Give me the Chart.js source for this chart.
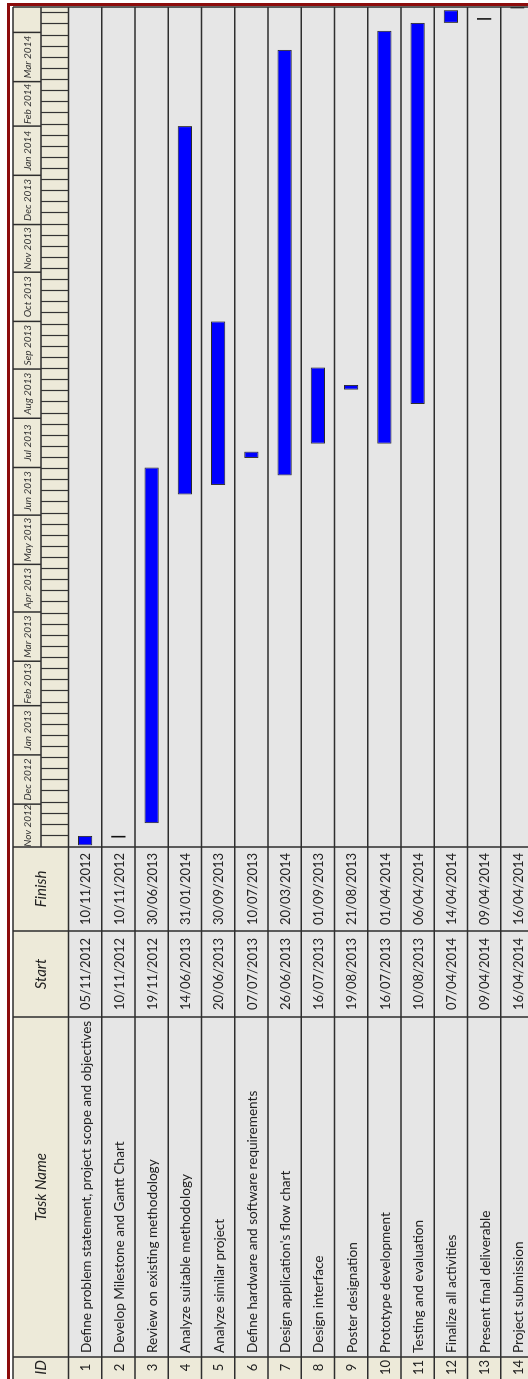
<!DOCTYPE html>
<html lang="en">
<head>
    <meta charset="UTF-8">
    <title>Project Gantt Chart</title>
    <script src="https://cdn.jsdelivr.net/npm/chart.js"></script>
    <style>
        html, body { margin: 0; padding: 0; background: #fff; width: 528px; height: 1379px; overflow: hidden; }
        /* chart is drawn landscape and turned a quarter to fit the portrait page */
        #wrap { position: absolute; left: 0; top: 0; width: 1379px; height: 540px;
                transform-origin: 0 0; transform: translate(0, 1379px) rotate(-90deg); }
    </style>
</head>
<body>
    <div id="wrap"><canvas id="gantt" width="1379" height="540"></canvas></div>

    <script>
        // task table
        const taskIds = [1, 2, 3, 4, 5, 6, 7, 8, 9, 10, 11, 12, 13, 14];
        const taskNames = [
            'Define problem statement, project scope and objectives',
            'Develop Milestone and Gantt Chart',
            'Review on existing methodology',
            'Analyze suitable methodology',
            'Analyze similar project',
            'Define hardware and software requirements',
            "Design application's flow chart",
            'Design interface',
            'Poster designation',
            'Prototype development',
            'Testing and evaluation',
            'Finalize all activities',
            'Present final deliverable',
            'Project submission'
        ];
        const startDates = ['05/11/2012', '10/11/2012', '19/11/2012', '14/06/2013', '20/06/2013', '07/07/2013', '26/06/2013',
                            '16/07/2013', '19/08/2013', '16/07/2013', '10/08/2013', '07/04/2014', '09/04/2014', '16/04/2014'];
        const finishDates = ['10/11/2012', '10/11/2012', '30/06/2013', '31/01/2014', '30/09/2013', '10/07/2013', '20/03/2014',
                             '01/09/2013', '21/08/2013', '01/04/2014', '06/04/2014', '14/04/2014', '09/04/2014', '16/04/2014'];
        const milestones = [false, true, false, false, false, false, false, false, false, false, false, false, true, false];

        // visible time span of the timeline
        const timelineStart = '04/11/2012';
        const timelineEnd = '17/04/2014';
        const monthNames = ['Jan', 'Feb', 'Mar', 'Apr', 'May', 'Jun', 'Jul', 'Aug', 'Sep', 'Oct', 'Nov', 'Dec'];

        function toUTC(s) {
            const [d, m, y] = s.split('/').map(Number);
            return Date.UTC(y, m - 1, d);
        }
        const origin = toUTC(timelineStart);
        const dayOf = s => (toUTC(s) - origin) / 86400000;
        const totalDays = dayOf(timelineEnd);

        // bars run from start of the first day to end of the last day
        const barData = startDates.map((s, i) => [dayOf(s), dayOf(finishDates[i]) + 1]);

        const cols = { id: -1, name: 22, start: 362, finish: 448, time: 532 };
        const headTop = 13, monthRow = 41;
        const beige = '#EDEAD9', grey = '#E6E6E6', line = '#2e2e2e';

        const tablePlugin = {
            id: 'ganttTable',
            beforeDraw(chart) {
                const ctx = chart.ctx;
                const area = chart.chartArea;
                const xs = chart.scales.x, ys = chart.scales.y;
                const H = chart.height;
                const rowH = (area.bottom - area.top) / taskIds.length;
                ctx.save();
                ctx.fillStyle = '#fff';
                ctx.fillRect(0, 0, chart.width, H);

                // outer red frame
                ctx.strokeStyle = '#8d0c0c';
                ctx.lineWidth = 3;
                ctx.beginPath();
                ctx.moveTo(-5, 8.5); ctx.lineTo(1374.5, 8.5); ctx.lineTo(1374.5, H + 5);
                ctx.stroke();

                // cell backgrounds
                ctx.fillStyle = beige;
                ctx.fillRect(cols.id, headTop, area.right - cols.id, area.top - headTop);
                ctx.fillRect(cols.id, area.top, cols.name - cols.id, H - area.top);
                ctx.fillStyle = grey;
                ctx.fillRect(cols.name, area.top, area.right - cols.name, H - area.top);

                // grid
                ctx.strokeStyle = line;
                ctx.lineWidth = 1.5;
                ctx.beginPath();
                ctx.moveTo(cols.id, headTop); ctx.lineTo(area.right, headTop);
                for (let k = 0; k <= taskIds.length; k++) {
                    const v = area.top + k * rowH;
                    ctx.moveTo(cols.id, v); ctx.lineTo(area.right, v);
                }
                [cols.name, cols.start, cols.finish, cols.time, area.right].forEach(u => {
                    ctx.moveTo(u, headTop); ctx.lineTo(u, H);
                });
                ctx.moveTo(area.left, monthRow); ctx.lineTo(area.right, monthRow);
                ctx.stroke();

                // week ticks
                ctx.lineWidth = 1.2;
                ctx.strokeStyle = '#333';
                ctx.beginPath();
                for (let d = 7; d < totalDays; d += 7) {
                    const u = Math.round(xs.getPixelForValue(d)) + 0.5;
                    ctx.moveTo(u, monthRow); ctx.lineTo(u, area.top);
                }
                ctx.stroke();

                // months
                ctx.font = 'italic 10px Lato';
                ctx.textAlign = 'center';
                ctx.textBaseline = 'middle';
                ctx.fillStyle = '#333';
                const t0 = new Date(origin);
                let y = t0.getUTCFullYear(), m = t0.getUTCMonth();
                while (true) {
                    const a = Math.max(0, (Date.UTC(y, m, 1) - origin) / 86400000);
                    const b = Math.min(totalDays, (Date.UTC(y, m + 1, 1) - origin) / 86400000);
                    if (a >= totalDays) break;
                    const ua = xs.getPixelForValue(a), ub = xs.getPixelForValue(b);
                    const label = monthNames[m] + ' ' + y;
                    if (ctx.measureText(label).width < ub - ua + 2) {
                        ctx.fillText(label, (ua + ub) / 2, (headTop + monthRow) / 2 + 1);
                    }
                    if (b < totalDays) {
                        ctx.beginPath();
                        ctx.lineWidth = 1.5;
                        ctx.strokeStyle = line;
                        ctx.moveTo(ub, headTop); ctx.lineTo(ub, monthRow);
                        ctx.stroke();
                    }
                    m++;
                    if (m > 11) { m = 0; y++; }
                }

                // header titles
                ctx.fillStyle = '#222';
                ctx.font = 'italic 15px Lato';
                const hv = (headTop + area.top) / 2;
                ctx.fillText('ID', (cols.id + cols.name) / 2 + 1, hv);
                ctx.fillText('Task Name', (cols.name + cols.start) / 2, hv);
                ctx.fillText('Start', (cols.start + cols.finish) / 2, hv);
                ctx.fillText('Finish', (cols.finish + cols.time) / 2, hv);

                // rows
                taskIds.forEach((id, i) => {
                    const v = ys.getPixelForValue(i) + 1;
                    ctx.textAlign = 'center';
                    ctx.font = '13px Lato';
                    ctx.fillText(String(id), (cols.id + cols.name) / 2 + 1, v);
                    ctx.fillText(startDates[i], (cols.start + cols.finish) / 2, v);
                    ctx.fillText(finishDates[i], (cols.finish + cols.time) / 2, v);
                    ctx.textAlign = 'left';
                    ctx.font = '13.6px Lato';
                    ctx.fillText(taskNames[i], cols.name + 4, v);
                });
                ctx.restore();
            }
        };

        new Chart(document.getElementById('gantt').getContext('2d'), {
            type: 'bar',
            data: {
                labels: taskNames,
                datasets: [{
                    data: barData,
                    backgroundColor: milestones.map(f => f ? '#111' : '#0000FF'),
                    borderColor: milestones.map(f => f ? '#111' : '#2a2a2a'),
                    borderWidth: milestones.map(f => f ? 0 : 1),
                    borderSkipped: false,
                    barPercentage: 0.43,
                    categoryPercentage: 1,
                    clip: 0
                }]
            },
            options: {
                indexAxis: 'y',
                responsive: false,
                devicePixelRatio: 1,
                animation: false,
                layout: { padding: { left: 532, right: 7, top: 68.5, bottom: 6 } },
                scales: {
                    x: { type: 'linear', min: 0, max: totalDays, display: false },
                    y: { display: false }
                },
                plugins: { legend: { display: false }, tooltip: { enabled: false } }
            },
            plugins: [tablePlugin]
        });
    </script>
</body>
</html>
